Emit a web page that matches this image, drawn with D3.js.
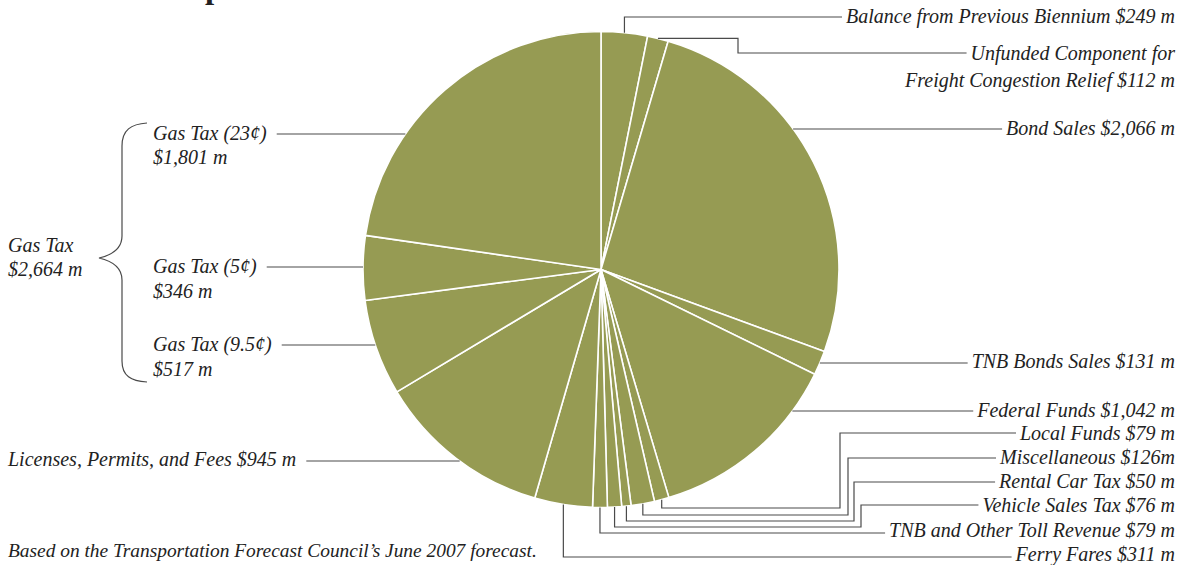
<!DOCTYPE html>
<html><head><meta charset="utf-8">
<script src="https://cdn.jsdelivr.net/npm/d3@7"></script>
<style>
html,body{margin:0;padding:0;background:#fff;}
svg{display:block;}
text{font-family:"Liberation Serif","Times New Roman",serif;font-style:italic;fill:#222;}
</style></head><body>
<svg id="chart" width="1188" height="565"></svg>
<script>
// ---- data ----
const categories = [
  "Balance from Previous Biennium",
  "Unfunded Component for Freight Congestion Relief",
  "Bond Sales",
  "TNB Bonds Sales",
  "Federal Funds",
  "Local Funds",
  "Miscellaneous",
  "Rental Car Tax",
  "Vehicle Sales Tax",
  "TNB and Other Toll Revenue",
  "Ferry Fares",
  "Licenses, Permits, and Fees",
  "Gas Tax (9.5¢)",
  "Gas Tax (5¢)",
  "Gas Tax (23¢)"
];
const values = [249, 112, 2066, 131, 1042, 79, 126, 50, 76, 79, 311, 945, 517, 346, 1801];
const labelLines = [
  ["Balance from Previous Biennium $249 m"],
  ["Unfunded Component for", "Freight Congestion Relief $112 m"],
  ["Bond Sales $2,066 m"],
  ["TNB Bonds Sales $131 m"],
  ["Federal Funds $1,042 m"],
  ["Local Funds $79 m"],
  ["Miscellaneous $126m"],
  ["Rental Car Tax $50 m"],
  ["Vehicle Sales Tax $76 m"],
  ["TNB and Other Toll Revenue $79 m"],
  ["Ferry Fares $311 m"],
  ["Licenses, Permits, and Fees $945 m"],
  ["Gas Tax (9.5¢)", "$517 m"],
  ["Gas Tax (5¢)", "$346 m"],
  ["Gas Tax (23¢)", "$1,801 m"]
];
const groupLabel = ["Gas Tax", "$2,664 m"];
const footnote = "Based on the Transportation Forecast Council\u2019s June 2007 forecast.";
const titleText = "Revenue Components";

// ---- layout (positions only) ----
const cx = 601, cy = 269.5, R = 238;
const rightX = 1175;
const layout = [
  {kind:"v", y:17, base:[23]},
  {kind:"hv", x1:738, y:53, base:[60, 87]},
  {kind:"h", side:"r", y:129, base:[135]},
  {kind:"h", side:"r", y:363, base:[368]},
  {kind:"h", side:"r", y:411, base:[417]},
  {kind:"e", y1:508, x2:840, y:433, base:[440]},
  {kind:"e", y1:515, x2:848, y:458, base:[464]},
  {kind:"e", y1:521, x2:854, y:482, base:[488]},
  {kind:"e", y1:527, x2:861, y:505, base:[512]},
  {kind:"d", y:533, base:[537]},
  {kind:"d", y:557, base:[561]},
  {kind:"h", side:"l", y:461, x0:8, base:[466]},
  {kind:"h", side:"l", y:345, x0:153, base:[351, 376]},
  {kind:"h", side:"l", y:267, x0:153, base:[273, 298]},
  {kind:"h", side:"l", y:134, x0:153, base:[140, 164]}
];

const svg = d3.select("#chart");
const fontSize = 20;
const fill = "#969b53";
const lineColor = "#4a4a4a";

// title (mostly cut off at top, as in the source)
svg.append("text").attr("x", 8).attr("y", -2)
  .style("font-style","normal").style("font-weight","bold")
  .style("font-size","33px").text(titleText);

const pie = d3.pie().sort(null).value(d => d).startAngle(0).endAngle(2*Math.PI);
const arcs = pie(values);
const arc = d3.arc().innerRadius(0).outerRadius(R);

const g = svg.append("g").attr("transform", `translate(${cx},${cy})`);
g.selectAll("path").data(arcs).join("path")
  .attr("d", arc).attr("fill", fill)
  .attr("stroke", "#fff").attr("stroke-width", 1.6).attr("stroke-linejoin","round");

function midPoint(a) {
  const ang = (a.startAngle + a.endAngle) / 2;
  return [cx + R*Math.sin(ang), cy - R*Math.cos(ang)];
}
function edgeX(y, side) {
  const dy = y - cy;
  const dx = Math.sqrt(Math.max(0, R*R - dy*dy));
  return side === "l" ? cx - dx : cx + dx;
}

const labelsG = svg.append("g");
const leadG = svg.append("g");

arcs.forEach((a, i) => {
  const L = layout[i];
  const lines = labelLines[i];
  const left = L.kind === "h" && L.side === "l";
  const t = labelsG.append("text").style("font-size", fontSize + "px")
    .attr("text-anchor", left ? "start" : "end");
  lines.forEach((s, k) => {
    t.append("tspan").attr("x", left ? L.x0 : rightX).attr("y", L.base[k]).text(s);
  });
  const first = t.select("tspan").node();
  const w = first.getComputedTextLength();
  let pts;
  const m = midPoint(a);
  if (L.kind === "h") {
    const ex = edgeX(L.y, L.side);
    if (left) pts = [[L.x0 + w + 10, L.y], [ex, L.y]];
    else pts = [[ex, L.y], [rightX - w - 4, L.y]];
  } else if (L.kind === "v") {
    pts = [m, [m[0], L.y], [rightX - w - 4, L.y]];
  } else if (L.kind === "hv") {
    pts = [m, [L.x1, m[1]], [L.x1, L.y], [rightX - w - 4, L.y]];
  } else if (L.kind === "e") {
    pts = [m, [m[0], L.y1], [L.x2, L.y1], [L.x2, L.y], [rightX - w - 4, L.y]];
  } else if (L.kind === "d") {
    pts = [m, [m[0], L.y], [rightX - w - 4, L.y]];
  }
  leadG.append("path").attr("d", d3.line()(pts))
    .attr("fill","none").attr("stroke", lineColor).attr("stroke-width", 1.2);
});

// group label + brace
const gt = labelsG.append("text").style("font-size", fontSize + "px");
gt.append("tspan").attr("x", 8).attr("y", 252).text(groupLabel[0]);
gt.append("tspan").attr("x", 8).attr("y", 276).text(groupLabel[1]);

const bp = d3.path();
bp.moveTo(147,123);
bp.bezierCurveTo(131,124,122,130,122,146);
bp.lineTo(122,236);
bp.bezierCurveTo(122,249,112,255,99,258);
bp.bezierCurveTo(112,261,122,267,122,280);
bp.lineTo(122,361);
bp.bezierCurveTo(122,376,131,381,147,382);
leadG.append("path").attr("d", bp.toString()).attr("fill","none")
  .attr("stroke", lineColor).attr("stroke-width", 1.2);

labelsG.append("text").attr("x", 8).attr("y", 557)
  .style("font-size", "19.4px").text(footnote);
</script>
</body></html>
